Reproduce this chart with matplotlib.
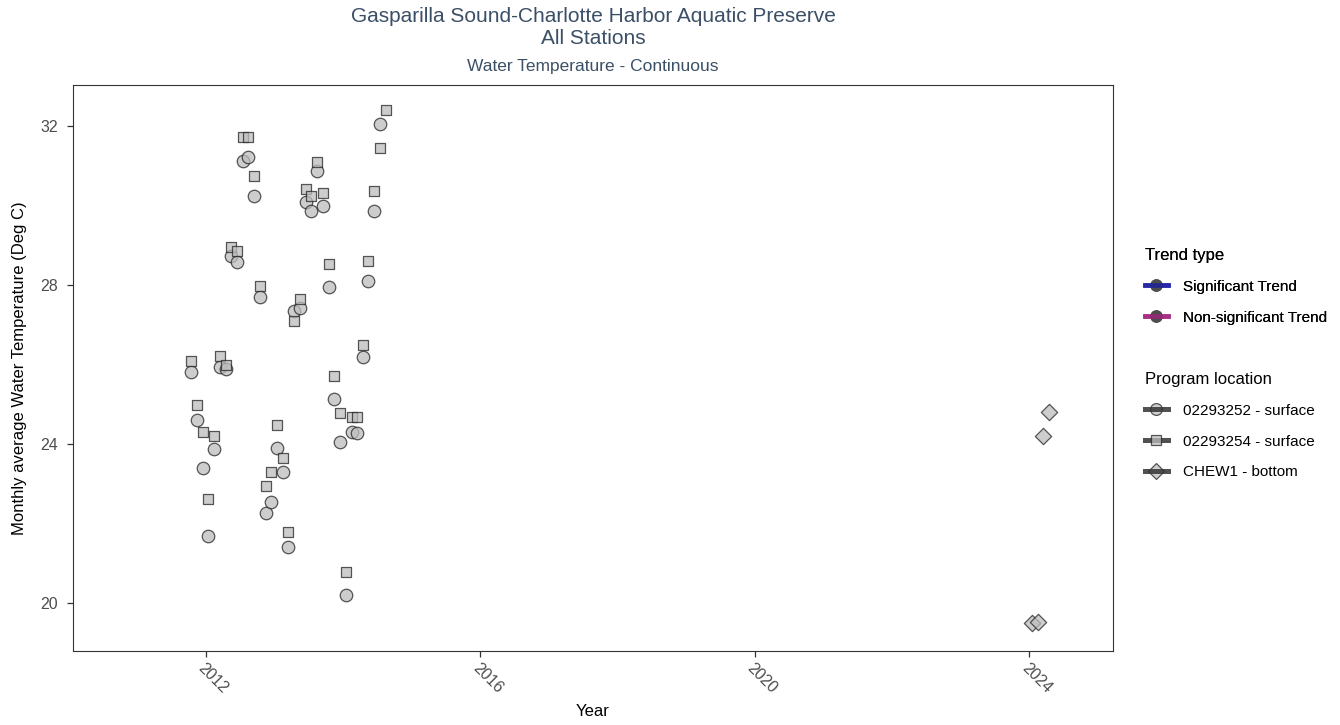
import pandas as pd
import matplotlib
matplotlib.use("Agg")
import matplotlib.pyplot as plt
import matplotlib.dates as mdates
from matplotlib.lines import Line2D
from matplotlib.legend_handler import HandlerTuple

# Monthly average water temperature (deg C) per program location
months_252 = pd.date_range("2011-10-01", "2014-07-01", freq="MS") + pd.Timedelta(days=14)
temp_252 = [25.82, 24.61, 23.41, 21.69, 23.88, 25.93, 25.88, 28.74, 28.59, 31.13,
            31.22, 30.25, 27.70, 22.27, 22.55, 23.90, 23.30, 21.42, 27.35, 27.42,
            30.10, 29.87, 30.88, 30.00, 27.96, 25.13, 24.05, 20.21, 24.31, 24.29,
            26.19, 28.11, 29.87, 32.06]

months_254 = pd.date_range("2011-10-01", "2014-08-01", freq="MS") + pd.Timedelta(days=14)
temp_254 = [26.09, 24.99, 24.31, 22.61, 24.21, 26.22, 25.98, 28.97, 28.86, 31.74,
            31.74, 30.75, 27.99, 22.94, 23.30, 24.48, 23.64, 21.79, 27.11, 27.65,
            30.42, 30.25, 31.09, 30.32, 28.54, 25.72, 24.79, 20.78, 24.68, 24.68,
            26.50, 28.61, 30.36, 31.46, 32.41]

months_chew = pd.date_range("2024-01-01", "2024-04-01", freq="MS") + pd.Timedelta(days=14)
temp_chew = [19.49, 19.52, 24.21, 24.82]

year_ticks = [2012, 2016, 2020, 2024]
temp_ticks = [20, 24, 28, 32]

plt.rcParams["font.family"] = ["Liberation Sans", "DejaVu Sans"]

title_color = "#3b4f66"
tick_color = "#4d4d4d"
fill = "#bdbdbd"
edge = "#222222"

fig = plt.figure(figsize=(13.4, 7.25), dpi=100)
ax = fig.add_axes([73 / 1340, 1 - 650.7 / 725, (1113 - 73) / 1340, (650.7 - 85) / 725])

pt_kw = dict(facecolor=fill, edgecolor=edge, linewidths=0.9, alpha=0.75, zorder=3)
ax.scatter(months_252, temp_252, marker="o", s=9.0 ** 2, **pt_kw)
ax.scatter(months_254, temp_254, marker="s", s=7.7 ** 2, **pt_kw)
ax.scatter(months_chew, temp_chew, marker="D", s=8.3 ** 2, **pt_kw)

ax.set_xlim(pd.Timestamp("2010-01-24"), pd.Timestamp("2025-03-21"))
ax.set_ylim(18.8, 33.04)
ax.set_xticks([pd.Timestamp(f"{y}-01-01") for y in year_ticks])
ax.xaxis.set_major_formatter(mdates.DateFormatter("%Y"))
ax.set_yticks(temp_ticks)

for side in ax.spines.values():
    side.set_color("#333333")
    side.set_linewidth(0.8)
ax.tick_params(axis="both", length=4, width=0.9, color="#333333",
               labelsize=11.5, labelcolor=tick_color)
ax.tick_params(axis="y", pad=7)
ax.tick_params(axis="x", pad=3)
for lab in ax.get_xticklabels():
    lab.set_rotation(-45)
    lab.set_ha("left")
    lab.set_va("top")
    lab.set_rotation_mode("anchor")

ax.set_xlabel("Year", fontsize=12, labelpad=6)
ax.set_ylabel("Monthly average Water Temperature (Deg C)", fontsize=12, labelpad=9)

# Titles
cx = (73 + 1113) / 2 / 1340
fig.text(cx, 1 - 16 / 725, "Gasparilla Sound-Charlotte Harbor Aquatic Preserve",
         ha="center", va="center", fontsize=15, color=title_color)
fig.text(cx, 1 - 38 / 725, "All Stations", ha="center", va="center",
         fontsize=15, color=title_color)
fig.text(cx, 1 - 66 / 725, "Water Temperature - Continuous", ha="center",
         va="center", fontsize=12.5, color=title_color)

# Legend: trend type
dot = dict(marker="o", markersize=8, markerfacecolor="#4d4d4d",
           markeredgecolor="#4d4d4d", linestyle="none")
sig = (Line2D([], [], **dot), Line2D([], [], color="#1a1aa6", lw=3.4, alpha=0.75))
nonsig = (Line2D([], [], **dot), Line2D([], [], color="#a6207f", lw=3.4, alpha=0.75))
leg_kw = dict(frameon=False, fontsize=11, title_fontsize=12, handlelength=1.5,
              handletextpad=1.0, labelspacing=1.1, borderaxespad=0, borderpad=0,
              alignment="left", handler_map={tuple: HandlerTuple(ndivide=1, pad=0)})
leg1 = fig.legend([sig, nonsig], ["Significant Trend", "Non-significant Trend"],
                  title="Trend type", loc="upper left",
                  bbox_to_anchor=(1145 / 1340, 1 - 248 / 725), **leg_kw)
fig.add_artist(leg1)

# Legend: program location
mk = dict(markerfacecolor=fill, markeredgecolor=edge, markeredgewidth=0.9,
          alpha=0.75, linestyle="none")
loc_line = dict(color="#333333", lw=3.6, alpha=0.85)
h_252 = (Line2D([], [], marker="o", markersize=8.5, **mk), Line2D([], [], **loc_line))
h_254 = (Line2D([], [], **loc_line), Line2D([], [], marker="s", markersize=7.5, **mk))
h_chew = (Line2D([], [], marker="D", markersize=8.0, **mk), Line2D([], [], **loc_line))
fig.legend([h_252, h_254, h_chew],
           ["02293252 - surface", "02293254 - surface", "CHEW1 - bottom"],
           title="Program location", loc="upper left",
           bbox_to_anchor=(1145 / 1340, 1 - 372 / 725), **leg_kw)

fig.savefig("out.png", dpi=100)
